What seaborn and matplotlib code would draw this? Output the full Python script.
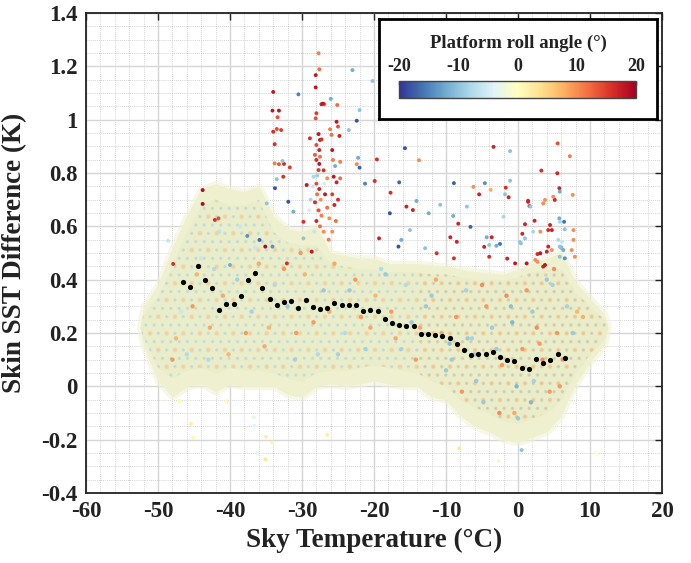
import matplotlib
matplotlib.use("Agg")
import matplotlib.pyplot as plt
import seaborn as sns
import pandas as pd
import numpy as np
from matplotlib.ticker import MultipleLocator

# ---------------- data ----------------
# binned mean (black dots)
bin_sky = [-46.5, -45.5, -44.5, -43.5, -42.5, -41.5, -40.5, -39.5, -38.5, -37.5,
           -36.5, -35.5, -34.5, -33.5, -32.5, -31.5, -30.5, -29.5, -28.5, -27.5,
           -26.5, -25.5, -24.5, -23.5, -22.5, -21.5, -20.5, -19.5, -18.5, -17.5,
           -16.5, -15.5, -14.5, -13.5, -12.5, -11.5, -10.5, -9.5, -8.5, -7.5,
           -6.5, -5.5, -4.5, -3.5, -2.5, -1.5, -0.5, 0.5, 1.5, 2.5,
           3.5, 4.5, 5.5, 6.5]
bin_mean = [0.391, 0.374, 0.450, 0.399, 0.368, 0.286, 0.308, 0.308, 0.339, 0.398,
            0.425, 0.368, 0.329, 0.304, 0.318, 0.320, 0.294, 0.325, 0.298, 0.289,
            0.295, 0.314, 0.305, 0.304, 0.304, 0.283, 0.285, 0.283, 0.254, 0.239,
            0.231, 0.225, 0.225, 0.196, 0.196, 0.191, 0.189, 0.180, 0.158, 0.135,
            0.118, 0.120, 0.121, 0.130, 0.110, 0.099, 0.095, 0.069, 0.065, 0.101,
            0.089, 0.099, 0.120, 0.108]

# envelope of the dense point cloud (sky temperature, upper / lower skin SST difference)
env_sky = [-52.5, -52, -50, -48, -46, -44, -42, -40, -38, -36, -34, -32, -30, -28, -26,
           -24, -22, -20, -18, -16, -14, -12, -10, -8, -6, -4, -2, 0, 2, 4, 6, 8, 10, 12, 12.5]
env_upper = [0.22, 0.30, 0.38, 0.52, 0.64, 0.74, 0.76, 0.74, 0.73, 0.75, 0.64, 0.59, 0.58, 0.60, 0.50,
             0.49, 0.48, 0.48, 0.46, 0.46, 0.46, 0.455, 0.45, 0.44, 0.43, 0.425, 0.42, 0.44, 0.46, 0.48,
             0.50, 0.39, 0.33, 0.27, 0.22]
env_lower = [0.22, 0.15, 0.02, -0.04, 0.0, 0.01, -0.02, 0.01, 0.0, 0.0, 0.0, -0.03, -0.04, 0.0, 0.01,
             0.0, 0.01, 0.02, 0.01, 0.0, 0.0, -0.04, -0.05, -0.11, -0.15, -0.17, -0.2, -0.21, -0.19, -0.17,
             -0.11, 0.01, 0.09, 0.16, 0.22]
core_upper = [0.22, 0.27, 0.34, 0.46, 0.58, 0.68, 0.70, 0.68, 0.68, 0.70, 0.58, 0.54, 0.53, 0.53, 0.46,
              0.45, 0.44, 0.44, 0.43, 0.43, 0.43, 0.42, 0.42, 0.41, 0.40, 0.40, 0.40, 0.41, 0.43, 0.44,
              0.44, 0.35, 0.30, 0.25, 0.22]
core_lower = [0.22, 0.18, 0.07, 0.03, 0.06, 0.07, 0.05, 0.07, 0.06, 0.06, 0.05, 0.03, 0.02, 0.05, 0.06,
              0.06, 0.07, 0.08, 0.07, 0.06, 0.05, 0.02, 0.0, -0.05, -0.08, -0.10, -0.13, -0.14, -0.12, -0.10,
              -0.05, 0.05, 0.12, 0.18, 0.22]

# individually visible points: sky temperature, skin SST difference, roll angle
pt_sky = [-27.7, -27.6, -28.1, -28.1, -34.0, -30.5, -23.0, -20.2, -26.0, -27.3, -26.9, -27.1, -25.1,
          -34.1, -33.2, -33.4, -28.0, -28.1, -22.0, -22.4, -25.2, -25.0, -33.5, -32.9, -34.0, -26.1, -25.9,
          -23.5, -27.7, -27.5, -27.3, -28.9, -24.8, -33.8, -28.0, -27.6, -25.8, -19.6, -22.2, -28.2, -28.0,
          -27.5, -25.7, -24.7, -33.8, -33.2, -32.5, -32.7, -31.7, -25.4, -22.0, -22.4, -27.6, -27.7, -32.6,
          -33.5, -28.4, -26.5, -25.6, -24.7, -25.2, -21.25, -19.9, -33.75, -15.7, -13.75, -3.4, -1.1, 5.5,
          7.2, -16.5, -17.7, -8.9, -6.2, -4.6, -5.4, -3.8, -1.7, -1.8, -1.3, 3.24, -15.5, -14.1, -12.4,
          -10.8, -17.8, -14.6, -9.0, 1.6, -8.3, -6.6, -9.4, -8.5, -4.35, -3.65, -2.5, -3.0, -4.7, -4.0,
          -11.3, -8.9, -4.0, -1.5, 0.97, 0.6, 2.3, 0.28, 2.7, 1.4, 3.5,
          5.46, -1.1, 5.74, 5.8, 5.1, 4.9, 3.75, 3.5, 7.6, 1.4, 1.7, 5.74, 5.8, 6.4, 4.45, 4.2, 4.7, 6.5,
          7.7, 3.1, 2.1, 0.97, 0.4, 5.6, 6.1, 5.8, 4.2, 4.7, 4.0, 6.3, 5.8, 6.5, 3.1, 3.75, 2.4, 2.7,
          -0.4, 1.2, 7.7, 7.45, 7.9, -2.0,
          -43.8, -43.8, -47.9, -48.6, -42.1, -41.6, -40.0, -35.1, -35.9, -37.6, -34.1, -31.9, -31.2,
          -29.8, -29.35, -28.65, -29.8, -34.9, -32.1,
          -28.0, -27.6, -27.9, -27.4, -28.2, -27.7, -27.3, -28.0, -27.5, -27.0, -26.8, -26.5, -26.2,
          -25.8, -25.5, -25.3, -25.8, -26.3, -27.0, -25.0, -28.5, -28.8, -29.0, -28.3, -26.9, -27.9,
          -7.1, -16.6, -19.3, -16.2, -15.0, -12.9,
          -47.0, -45.4, -45.1, -36.7, -36.6, -35.0, -34.2, -36.2, -35.1, -26.5, -40.5, 10.9, 0.5, -2.7, -8.15]
pt_diff = [1.249, 1.189, 1.167, 1.121, 1.104, 1.095, 1.186, 1.145, 1.078, 1.058, 1.058, 1.060, 1.055,
           1.034, 1.034, 1.009, 1.024, 1.005, 1.036, 0.996, 0.992, 0.974, 0.965, 0.961, 0.955, 0.964, 0.943,
           0.961, 0.946, 0.924, 0.926, 0.930, 0.939, 0.908, 0.905, 0.886, 0.886, 0.851, 0.857, 0.868, 0.849,
           0.861, 0.849, 0.842, 0.836, 0.833, 0.834, 0.845, 0.821, 0.826, 0.820, 0.833, 0.834, 0.811, 0.786,
           0.777, 0.786, 0.780, 0.786, 0.780, 0.765, 0.760, 0.770, 0.743, 0.893, 0.848, 0.898, 0.882, 0.911,
           0.863, 0.765, 0.726, 0.762, 0.748, 0.762, 0.720, 0.737, 0.745, 0.720, 0.709, 0.809, 0.674, 0.695,
           0.649, 0.681, 0.649, 0.661, 0.639, 0.676, 0.610, 0.598, 0.559, 0.542, 0.559, 0.559, 0.534, 0.527,
           0.523, 0.530, 0.499, 0.480, 0.486, 0.479, 0.608, 0.572, 0.621, 0.541, 0.496, 0.696, 0.449,
           0.799, 0.771, 0.743, 0.730, 0.699, 0.711, 0.699, 0.686, 0.718, 0.692, 0.674, 0.630, 0.617, 0.617,
           0.605, 0.586, 0.586, 0.589, 0.586, 0.580, 0.580, 0.555, 0.536, 0.549, 0.542, 0.524, 0.524, 0.511,
           0.505, 0.511, 0.486, 0.480, 0.499, 0.455, 0.474, 0.467, 0.461, 0.461, 0.549, 0.511, 0.486, 0.636,
           0.736, 0.684, 0.459, 0.546, 0.624, 0.630, 0.455, 0.524, 0.549, 0.564, 0.524, 0.692, 0.655,
           0.617, 0.755, 0.505, 0.555, 0.686, 0.461,
           0.76, 0.74, 0.72, 0.70, 0.69, 0.66, 0.64, 0.62, 0.60, 0.58, 0.72, 0.67, 0.63,
           0.72, 0.68, 0.62, 0.58, 0.55, 0.81, 0.70, 0.75, 0.70, 0.66, 0.58, 0.76, 0.79,
           0.674, 0.524, 0.555, 0.549, 0.586, 0.518,
           -0.055, -0.141, -0.193, -0.116, -0.148, -0.189, -0.211, -0.251, -0.274, -0.182, -0.055, -0.254,
           -0.239, -0.279, -0.232]
pt_roll = [11, 12, 18, 18, 18, -15, -12, -10, -12, 17, 13, 18, 12,
           18, 18, 14, 15, 14, -10, -18, 18, 14, 14, 15, 16, 11, 12,
           -10, 18, 18, 16, 16, 17, 16, 14, 17, 18, 16, -12, 13, 16,
           12, 11, 11, 11, 13, 16, -10, 15, -12, -17, 10, 18, 15, 16,
           -10, -8, 10, 18, 12, 17, -15, 16, -18, -18, 10, 17, -10, 14,
           11, -17, 16, -17, 10, -14, 17, 8, 16, -10, 17, 16, 17, -12, -12,
           -10, -18, 17, -12, 17, 17, -17, 17, 17, -12, 17, -16, -12, 17, -10,
           16, 16, 16, 17, 17, 17, 17, -10, 16, 16, 17,
           17, -10, 17, -12, 17, 10, 10, 10, 10, 17, -10, -12, -8, -16, 17, 16, 17, -10,
           10, 10, -8, -10, -10, -8, -6, -10, 17, 10, 17, -12, -10, -14, 18, 18, 10, 10,
           18, 18, 10, 10, 10, -8,
           19, 19, 16, -6, 16, 14, -12, 19, -17, -14, -14, -18, -12,
           16, 18, 18, -10, -10, 16,
           14, 17, 12, 10, 16, 14, 11, 17, 12, 10, 18, 12, 10,
           15, 17, 12, 10, 11, 16, 16, -6, -8, -5, -6, -5, -9,
           -10, -18, 17, -12, -10, -10,
           1, 2, 1, -3, -4, 2, 1, -3, 3, 2, 1, 0, -10, -2, 3]

# speckles of stronger colour inside the dense cloud
sp_sky = [-47.5, -46.0, -45.2, -44.0, -42.8, -41.5, -40.2, -39.0, -37.8, -36.5, -35.2, -33.8, -32.5,
          -31.0, -29.6, -28.4, -27.0, -25.5, -24.0, -22.6, -21.2, -19.8, -18.4, -17.0, -15.6, -14.2,
          -12.8, -11.4, -10.0, -8.6, -7.2, -5.8, -4.4, -3.0, -1.6, -0.2, 1.2, 2.6, 4.0, 5.4, 6.8, 8.2,
          -46.8, -44.6, -43.0, -41.0, -38.6, -37.0, -34.6, -32.0, -30.2, -27.8, -26.2, -23.4, -21.8,
          -19.0, -17.6, -16.2, -13.6, -12.0, -10.6, -9.2, -7.8, -6.4, -5.0, -3.6, -2.2, -0.8, 0.6, 2.0,
          3.4, 4.8, 6.2, 7.6, 9.0, -4.8, -2.6, 0.0, 2.2, 4.4, -6.0, -1.0, 3.0, 5.0, -9.5, -14.8, -20.5,
          -25.0, -30.8, -36.0, -42.2, -48.0, -7.0, -0.5, 1.8, 5.8, 6.0]
sp_diff = [0.18, 0.12, 0.30, 0.48, 0.22, 0.58, 0.12, 0.40, 0.20, 0.52, 0.15, 0.38, 0.44,
           0.10, 0.42, 0.24, 0.36, 0.46, 0.20, 0.40, 0.14, 0.34, 0.42, 0.18, 0.38, 0.10,
           0.30, 0.40, 0.06, 0.26, 0.36, 0.02, 0.30, 0.14, 0.34, 0.00, 0.36, 0.22, 0.40, 0.20, 0.30, 0.28,
           0.28, 0.42, 0.10, 0.34, 0.60, 0.28, 0.22, 0.30, 0.50, 0.12, 0.28, 0.36, 0.26,
           0.44, 0.28, 0.14, 0.22, 0.34, 0.20, 0.10, -0.02, 0.18, 0.38, 0.22, 0.08, 0.24, 0.14, 0.28,
           0.10, 0.38, 0.10, 0.20, 0.26, -0.06, -0.10, -0.12, 0.02, -0.02, 0.12, 0.30, 0.16, 0.44, 0.16, 0.24, 0.22,
           0.12, 0.20, 0.46, 0.44, 0.10, 0.18, -0.10, -0.06, 0.00, 0.52]
sp_roll = [8, -8, 10, -6, 9, -7, 8, -9, 10, -6, 9, -8, 10,
           -9, 8, 10, -10, 9, -8, 10, -9, 8, -10, 9, -8, 10,
           -10, 9, -10, 10, -9, -10, 10, -10, 11, -12, 10, 11, -10, 10, -9, 8,
           -6, 8, -8, 9, -6, -9, 8, -10, 10, -8, 9, -10, 10,
           -8, 10, -9, 9, -10, 9, -10, 10, -9, 11, -10, 10, -12, 10, -10,
           11, -9, 10, -10, 8, -10, 11, -10, -9, 10, -10, -11, 10, 11, -11, -10, 9,
           -9, 10, 9, -8, 10, -10, 9, -12, 10, -12]

# ---------------- styling ----------------
sns.set_theme(style="white")
plt.rcParams["font.family"] = ["Liberation Serif", "DejaVu Serif"]
plt.rcParams["font.weight"] = "bold"
plt.rcParams["hatch.linewidth"] = 1.2

fig = plt.figure(figsize=(6.91, 5.63), dpi=100)
ax = fig.add_axes([86 / 691, 1 - 493 / 563, 576 / 691, 480 / 563])
ax.set_facecolor("white")

cmap = plt.get_cmap("RdYlBu_r")
norm = plt.Normalize(-20, 20)

# grid
ax.set_xlim(-60, 20)
ax.set_ylim(-0.4, 1.4)
ax.xaxis.set_major_locator(MultipleLocator(10))
ax.xaxis.set_minor_locator(MultipleLocator(2))
ax.yaxis.set_major_locator(MultipleLocator(0.2))
ax.yaxis.set_minor_locator(MultipleLocator(0.05))
ax.grid(which="major", color="#d6d6d6", lw=1.0, ls="-")
ax.grid(which="minor", color="#c4c4c4", lw=0.6, ls=(0, (1, 1.5)))
ax.set_axisbelow(True)

# dense cloud
right_part = [x >= -14 for x in env_sky]
ax.fill_between(env_sky, env_lower, env_upper, facecolor="#f1f2d6", edgecolor="#f1f2d6",
                lw=5, alpha=0.6, zorder=1.4)
ax.fill_between(env_sky, env_lower, env_upper, color="#eef0cf", lw=0, zorder=1.5)
ax.fill_between(env_sky, core_lower, core_upper, color="#eaedc9", lw=0, zorder=1.6)
ax.fill_between(env_sky, core_lower, core_upper, facecolor="none", edgecolor="#b3d3e2",
                hatch="..", lw=0, zorder=1.7, alpha=0.55)
ax.fill_between(env_sky, core_lower, core_upper, facecolor="none", edgecolor="#f8cf9a",
                hatch=".", lw=0, zorder=1.8, alpha=0.5)
ax.fill_between(env_sky, core_lower, core_upper, where=right_part, facecolor="none",
                edgecolor="#f6b877", hatch="..", lw=0, zorder=1.85, alpha=0.35)

sp_df = pd.DataFrame({"sky": sp_sky, "diff": sp_diff, "roll": sp_roll})
ax.scatter(sp_df["sky"], sp_df["diff"], c=sp_df["roll"], cmap=cmap, norm=norm,
           s=10, lw=0, alpha=0.85, zorder=2)

pt_df = pd.DataFrame({"sky": pt_sky, "diff": pt_diff, "roll": pt_roll})
sns.scatterplot(data=pt_df, x="sky", y="diff", hue="roll", palette=cmap, hue_norm=norm,
                s=8, linewidth=0, legend=False, ax=ax, zorder=3)

bin_df = pd.DataFrame({"sky": bin_sky, "mean": bin_mean})
sns.scatterplot(data=bin_df, x="sky", y="mean", color="black", s=14, linewidth=0,
                legend=False, ax=ax, zorder=4)

# ticks and labels
ax.tick_params(which="major", direction="in", length=5, width=1, top=True, right=True,
               labelsize=16.5, pad=6, colors="#222222")
ax.tick_params(which="minor", length=0)
ax.set_xticks([-60, -50, -40, -30, -20, -10, 0, 10, 20])
ax.set_xticklabels(["-60", "-50", "-40", "-30", "-20", "-10", "0", "10", "20"], fontweight="bold")
ax.set_yticks([-0.4, -0.2, 0, 0.2, 0.4, 0.6, 0.8, 1.0, 1.2, 1.4])
ax.set_yticklabels(["-0.4", "-0.2", "0", "0.2", "0.4", "0.6", "0.8", "1", "1.2", "1.4"], fontweight="bold")
for s in ax.spines.values():
    s.set_color("#222222")
    s.set_linewidth(1.3)
ax.set_xlabel("Sky Temperature (°C)", fontsize=19.5, fontweight="bold", color="#222222", labelpad=4)
ax.set_ylabel("Skin SST Difference (K)", fontsize=19.5, fontweight="bold", color="#222222", labelpad=10)

# colour-bar legend box
box = fig.add_axes([379 / 691, 1 - 119 / 563, 278 / 691, 100 / 563])
box.set_facecolor("white")
box.set_xticks([])
box.set_yticks([])
for s in box.spines.values():
    s.set_color("black")
    s.set_linewidth(2.0)
box.set_zorder(5)
box.text(0.5, 0.76, "Platform roll angle (°)", transform=box.transAxes, ha="center", va="center",
         fontsize=13.5, fontweight="bold", color="#222222")

cax = fig.add_axes([399 / 691, 1 - 97.5 / 563, 237 / 691, 16.5 / 563])
cax.set_zorder(6)
sm = plt.cm.ScalarMappable(norm=norm, cmap=cmap)
cb = fig.colorbar(sm, cax=cax, orientation="horizontal")
cb.outline.set_linewidth(1.0)
cb.outline.set_edgecolor("#444444")
cax.xaxis.set_ticks_position("top")
cax.xaxis.set_label_position("top")
cb.set_ticks([-20, -10, 0, 10, 20])
cax.tick_params(direction="in", length=3, width=1, labelsize=13, pad=4, colors="#222222")
cax.set_xticklabels(["-20", "-10", "0", "10", "20"], fontweight="bold")

fig.savefig("out.png", dpi=100)
